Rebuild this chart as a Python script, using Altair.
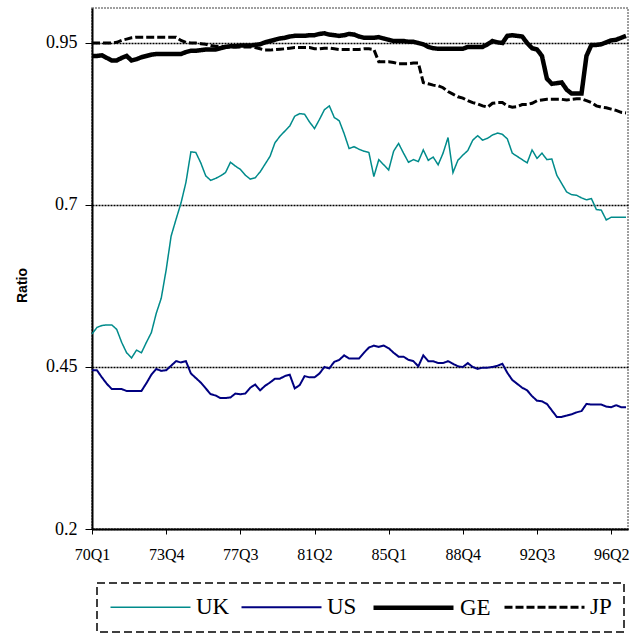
import altair as alt
import pandas as pd

TICK_LABELS = ["70Q1", "73Q4", "77Q3", "81Q2", "85Q1", "88Q4", "92Q3", "96Q2"]
COUNTRIES = ["UK", "US", "GE", "JP"]

UK = [0.501, 0.511, 0.514, 0.515, 0.515, 0.508, 0.488, 0.472, 0.464, 0.476,
      0.472, 0.488, 0.503, 0.533, 0.556, 0.600, 0.652, 0.678, 0.703, 0.735,
      0.782, 0.781, 0.765, 0.745, 0.738, 0.741, 0.745, 0.750, 0.766, 0.760,
      0.755, 0.746, 0.740, 0.742, 0.751, 0.763, 0.775, 0.796, 0.806, 0.814,
      0.822, 0.837, 0.841, 0.840, 0.828, 0.818, 0.832, 0.847, 0.853, 0.835,
      0.830, 0.810, 0.787, 0.790, 0.786, 0.783, 0.781, 0.744, 0.770, 0.762,
      0.754, 0.783, 0.795, 0.780, 0.766, 0.770, 0.767, 0.785, 0.769, 0.774,
      0.762, 0.780, 0.804, 0.750, 0.769, 0.777, 0.784, 0.800, 0.807, 0.800,
      0.803, 0.808, 0.811, 0.809, 0.802, 0.780, 0.775, 0.770, 0.765, 0.785,
      0.772, 0.780, 0.770, 0.771, 0.746, 0.733, 0.720, 0.716, 0.715, 0.711,
      0.708, 0.710, 0.693, 0.692, 0.677, 0.681, 0.681, 0.681, 0.681]

US = [0.445, 0.445, 0.434, 0.424, 0.416, 0.416, 0.416, 0.413, 0.413, 0.413,
      0.413, 0.425, 0.438, 0.447, 0.444, 0.445, 0.452, 0.459, 0.457, 0.459,
      0.440, 0.433, 0.426, 0.417, 0.408, 0.406, 0.402, 0.402, 0.403, 0.409,
      0.408, 0.409, 0.418, 0.423, 0.414, 0.421, 0.426, 0.432, 0.432, 0.436,
      0.438, 0.417, 0.422, 0.436, 0.434, 0.434, 0.440, 0.450, 0.448, 0.458,
      0.461, 0.468, 0.463, 0.463, 0.463, 0.472, 0.480, 0.483, 0.481, 0.483,
      0.479, 0.472, 0.466, 0.466, 0.461, 0.459, 0.451, 0.468, 0.459, 0.459,
      0.456, 0.456, 0.459, 0.455, 0.451, 0.450, 0.456, 0.450, 0.447, 0.449,
      0.449, 0.450, 0.452, 0.455, 0.441, 0.430, 0.424, 0.418, 0.414, 0.405,
      0.398, 0.397, 0.393, 0.383, 0.373, 0.373, 0.375, 0.377, 0.380, 0.382,
      0.393, 0.392, 0.392, 0.392, 0.389, 0.388, 0.391, 0.388, 0.388]

GE = [0.930, 0.930, 0.931, 0.927, 0.923, 0.923, 0.927, 0.930, 0.923, 0.925,
      0.928, 0.930, 0.932, 0.933, 0.933, 0.933, 0.933, 0.933, 0.933, 0.936,
      0.938, 0.938, 0.939, 0.940, 0.940, 0.940, 0.942, 0.944, 0.945, 0.945,
      0.946, 0.946, 0.946, 0.947, 0.948, 0.951, 0.953, 0.955, 0.957, 0.958,
      0.960, 0.961, 0.961, 0.961, 0.962, 0.962, 0.964, 0.965, 0.963, 0.962,
      0.961, 0.962, 0.964, 0.963, 0.960, 0.958, 0.958, 0.958, 0.959, 0.957,
      0.955, 0.953, 0.953, 0.953, 0.952, 0.952, 0.950, 0.948, 0.944, 0.942,
      0.941, 0.941, 0.941, 0.941, 0.941, 0.941, 0.944, 0.944, 0.944, 0.944,
      0.948, 0.953, 0.951, 0.950, 0.961, 0.962, 0.961, 0.960, 0.950, 0.942,
      0.940, 0.930, 0.895, 0.887, 0.888, 0.889, 0.878, 0.872, 0.872, 0.872,
      0.930, 0.947, 0.947, 0.948, 0.951, 0.954, 0.955, 0.958, 0.961]

JP = [0.950, 0.950, 0.950, 0.950, 0.950, 0.951, 0.954, 0.956, 0.958, 0.959,
      0.959, 0.959, 0.959, 0.959, 0.959, 0.959, 0.959, 0.959, 0.954, 0.951,
      0.950, 0.950, 0.949, 0.948, 0.946, 0.945, 0.945, 0.944, 0.944, 0.944,
      0.944, 0.944, 0.944, 0.943, 0.941, 0.939, 0.939, 0.940, 0.9405, 0.941,
      0.942, 0.943, 0.943, 0.943, 0.943, 0.941, 0.941, 0.942, 0.942, 0.941,
      0.940, 0.940, 0.940, 0.940, 0.940, 0.941, 0.941, 0.940, 0.921, 0.921,
      0.921, 0.920, 0.918, 0.918, 0.918, 0.919, 0.919, 0.889, 0.887, 0.885,
      0.884, 0.881, 0.875, 0.871, 0.867, 0.865, 0.861, 0.858, 0.856, 0.853,
      0.851, 0.857, 0.858, 0.858, 0.853, 0.851, 0.852, 0.855, 0.855, 0.857,
      0.861, 0.862, 0.863, 0.863, 0.863, 0.863, 0.862, 0.863, 0.864, 0.864,
      0.861, 0.858, 0.853, 0.851, 0.850, 0.848, 0.846, 0.843, 0.842]

SERIES = {"UK": UK, "US": US, "GE": GE, "JP": JP}
rows = []
for name, vals in SERIES.items():
    for i, v in enumerate(vals):
        rows.append({"t": i, "Country": name, "Ratio": v})
df = pd.DataFrame(rows)

label_js = "[" + ",".join("'" + s + "'" for s in TICK_LABELS) + "]"

leg = dict(title=None, orient="none", direction="horizontal",
           legendX=5, legendY=575)

chart = alt.Chart(df).mark_line(interpolate="linear").encode(
    x=alt.X("t:Q",
            scale=alt.Scale(domain=[0, 108.4], nice=False, zero=False),
            axis=alt.Axis(values=[0, 15, 30, 45, 60, 75, 90, 105],
                          labelExpr=label_js + "[round(datum.value / 15)]",
                          title=None, grid=False, tickSize=5,
                          labelPadding=12, labelFontSize=16,
                          labelFont="Liberation Serif", labelColor="black",
                          tickColor="black", domainColor="black",
                          domainWidth=2, labelFlush=False)),
    y=alt.Y("Ratio:Q",
            scale=alt.Scale(domain=[0.2, 1.004], nice=False, zero=False),
            axis=alt.Axis(values=[0.2, 0.45, 0.7, 0.95], format=".2~f",
                          title="Ratio", titleFont="Liberation Sans",
                          titleFontSize=14, titleFontWeight="bold",
                          titleColor="black", titleAngle=270,
                          titleX=-70, titleY=277, titleAlign="center",
                          titleBaseline="middle",
                          labelFontSize=18, labelFont="Liberation Serif",
                          labelColor="black", labelPadding=8, tickSize=7,
                          tickColor="black", domainColor="black",
                          domainWidth=2, grid=True, gridColor="black",
                          gridDash=[2, 1], gridWidth=1.3)),
    color=alt.Color("Country:N",
                    scale=alt.Scale(domain=COUNTRIES,
                                    range=["#008B8B", "#000080", "#000000", "#000000"]),
                    legend=alt.Legend(**leg)),
    strokeWidth=alt.StrokeWidth("Country:N",
                                scale=alt.Scale(type="ordinal", domain=COUNTRIES,
                                                range=[1.5, 2, 4.5, 3]),
                                legend=alt.Legend(**leg)),
    strokeDash=alt.StrokeDash("Country:N",
                              scale=alt.Scale(domain=COUNTRIES,
                                              range=[[1, 0], [1, 0], [1, 0], [8, 3]]),
                              legend=alt.Legend(**leg)),
).properties(
    width=536, height=521,
    autosize=alt.AutoSizeParams(type="none"),
    padding={"left": 92, "top": 8, "right": 2, "bottom": 115},
    background="white",
).configure_view(
    stroke="#808080", strokeWidth=1.5, strokeDash=[2, 1]
).configure_legend(
    symbolType="M-4,0L4,0", symbolSize=400, symbolOffset=30,
    labelFont="Liberation Serif", labelFontSize=23, labelColor="black",
    columnPadding=7, labelOffset=34, padding=12,
    strokeColor="black", strokeDash=[8, 4], strokeWidth=1.5,
)

chart.save("out.html", embed_options={"renderer": "svg", "actions": False})
